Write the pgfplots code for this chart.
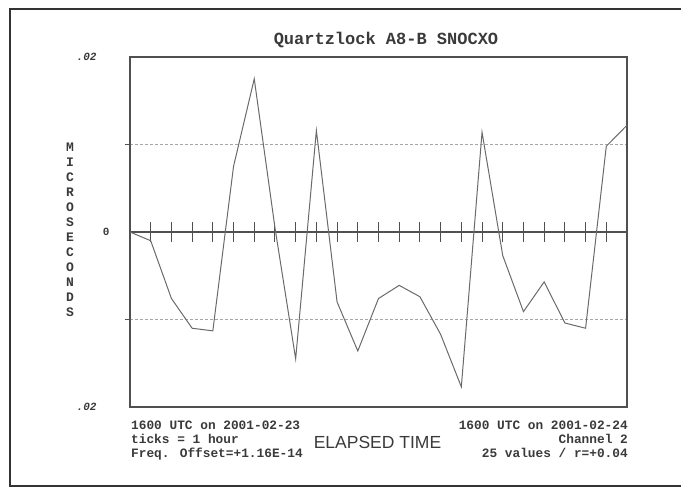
\documentclass[border=0pt]{standalone}
\usepackage{fontspec}
\setmainfont{Liberation Sans}
\newfontfamily\mono{Liberation Mono}
\usepackage{pgfplots}
\pgfplotsset{compat=1.18}

\definecolor{axisgray}{HTML}{505050}
\definecolor{linegray}{HTML}{6A6A6A}
\definecolor{txtgray}{HTML}{3A3A3A}

\begin{document}
\begin{tikzpicture}[x=1pt,y=1pt]
\path[use as bounding box] (0,0) rectangle (681,492);
% outer frame (right side is cut off in the scan)
\draw[line width=1.3pt, black!80] (681,483) -- (10,483) -- (10,6) -- (681,6);

\begin{axis}[
    at={(130pt,85pt)}, anchor=south west,
    width=497pt, height=350pt, scale only axis,
    xmin=0, xmax=24, ymin=-0.02, ymax=0.02,
    xtick=\empty,
    ytick={-0.01,0.01}, yticklabels={}, scaled y ticks=false,
    ytick pos=left,
    tick align=outside, major tick length=5pt,
    ymajorgrids, grid style={densely dashed, black!35, line width=0.6pt},
    axis line style={axisgray, line width=1.2pt},
    ytick style={axisgray, line width=0.8pt},
    clip=false,
]
% zero line with hourly ticks
\draw[axisgray, line width=1.2pt] (axis cs:0,0) -- (axis cs:24,0);
\pgfplotsinvokeforeach{1,...,23}{
  \draw[axisgray, line width=1pt] ([yshift=-10pt]axis cs:#1,0) -- ([yshift=10pt]axis cs:#1,0);
}
\addplot[linegray, line width=1pt, mark=none] coordinates {
(0,0) (1,-0.001) (2,-0.0076) (3,-0.011) (4,-0.0113) (5,0.0075)
(6,0.0175) (7,0.0005) (8,-0.0145) (9,0.0116) (10,-0.008) (11,-0.0136)
(12,-0.0076) (13,-0.0061) (14,-0.0074) (15,-0.0117) (16,-0.0177)
(17,0.0114) (18,-0.0027) (19,-0.0091) (20,-0.0057) (21,-0.0104)
(22,-0.011) (23,0.0098) (24,0.0122)
};
\node[anchor=east, font=\mono\bfseries\itshape\fontsize{11}{11}\selectfont, txtgray]
  at ([xshift=-30pt]axis cs:0,0.02) {.02};
\node[anchor=east, font=\mono\bfseries\fontsize{11}{11}\selectfont, txtgray]
  at ([xshift=-17pt]axis cs:0,0) {0};
\node[anchor=east, font=\mono\bfseries\itshape\fontsize{11}{11}\selectfont, txtgray]
  at ([xshift=-30pt]axis cs:0,-0.02) {.02};
\end{axis}

% title
\node[font=\mono\bfseries\fontsize{17}{17}\selectfont, txtgray] at (386,452) {Quartzlock A8-B SNOCXO};
% y label, letters stacked
\node[align=center, font=\mono\bfseries\fontsize{13}{15}\selectfont, txtgray]
  at (70,262) {M\\I\\C\\R\\O\\S\\E\\C\\O\\N\\D\\S};
% bottom notes
\node[anchor=north west, align=left, inner sep=0pt,
      font=\mono\bfseries\fontsize{12.8}{14}\selectfont, txtgray] at (131,71)
  {1600 UTC on 2001-02-23\\ticks = 1 hour\\Freq. Offset=+1.16E-14};
\node[anchor=north east, align=right, inner sep=0pt,
      font=\mono\bfseries\fontsize{12.8}{14}\selectfont, txtgray] at (628,71)
  {1600 UTC on 2001-02-24\\Channel 2\\25 values / r=+0.04};
\node[font=\fontsize{17.5}{17.5}\selectfont, txtgray] at (377.5,50) {ELAPSED TIME};
\end{tikzpicture}
\end{document}
